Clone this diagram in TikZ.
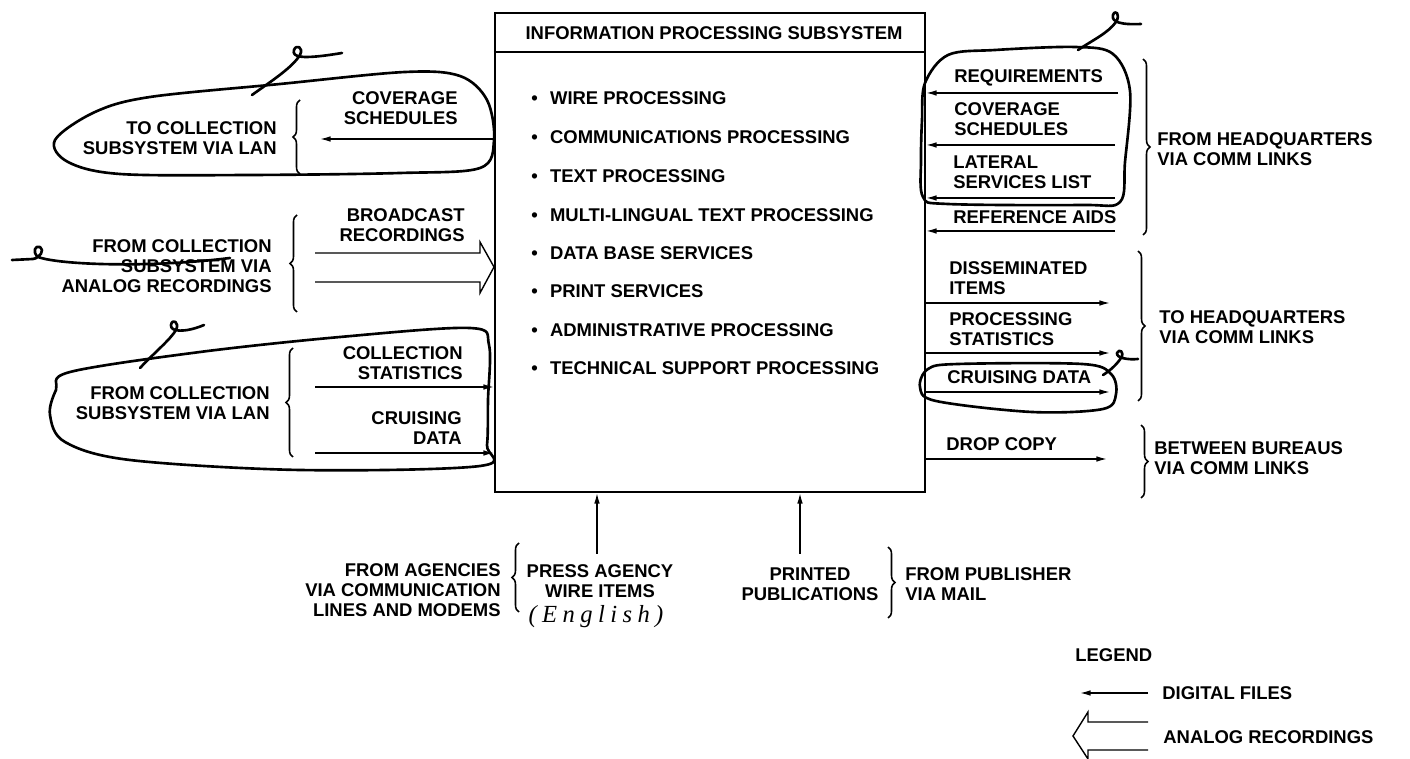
\documentclass[tikz,border=0pt]{standalone}
\usepackage{fontspec}
\setmainfont{Liberation Sans}
\newfontfamily\handfont[LetterSpace=22]{Liberation Serif}
\usetikzlibrary{arrows.meta,decorations.pathreplacing,positioning}

\begin{document}
\begin{tikzpicture}
[x=0.02cm,y=-0.02cm,
  font=\fontsize{10.5}{11.2}\selectfont\bfseries,
  lineDecorate/.style={-{Latex[length=6pt,width=3.2pt]},line width=0.8pt},
  analogDecorate/.style={line width=0.8pt,line join=miter},
  boxDecorate/.style={draw,line width=1.3pt,minimum width=8.6cm,minimum height=9.58cm,inner sep=0pt},
  braceDecorate/.style={decorate,decoration={brace,amplitude=4pt},line width=0.9pt},
  handDecorate/.style={line width=1.5pt,line cap=round,line join=round},
  leftText/.style={anchor=east,align=right,inner sep=0pt},
  rightText/.style={anchor=west,align=left,inner sep=0pt},
  midText/.style={align=center,inner sep=0pt}]
\useasboundingbox (0,0) rectangle (1410,759);

%% the subsystem box
\node[boxDecorate] (ips) at (710,252.5) {};
\node[midText] (ipsTitle) at (714,33) {INFORMATION PROCESSING SUBSYSTEM};
\coordinate (titleRule) at (0,52);
\draw[line width=1.3pt] (ips.west |- titleRule) -- (ips.east |- titleRule);

%% functions inside the box
\foreach \nodename/\y/\txt in {
  itemWire/98/WIRE PROCESSING, itemComm/137/COMMUNICATIONS PROCESSING,
  itemText/176/TEXT PROCESSING, itemMulti/215/MULTI-LINGUAL TEXT PROCESSING,
  itemBase/253/DATA BASE SERVICES, itemPrint/291/PRINT SERVICES,
  itemAdmin/330/ADMINISTRATIVE PROCESSING, itemTech/368/TECHNICAL SUPPORT PROCESSING}
{
  \node[rightText] (\nodename) at (531,\y) {\textbullet\hspace{7pt}\txt};
}

%% labels
\foreach \nodename/\x/\y/\txt in {
  covSchedL/458/108/{COVERAGE\\SCHEDULES}, toCollection/277/138/{TO COLLECTION\\SUBSYSTEM VIA LAN},
  broadcast/465/225/{BROADCAST\\RECORDINGS},
  fromAnalog/272/266/{FROM COLLECTION\\SUBSYSTEM VIA\\ANALOG RECORDINGS},
  collStats/463/363/{COLLECTION\\STATISTICS}, cruisingL/462/428/{CRUISING\\DATA},
  fromLan/270/403/{FROM COLLECTION\\SUBSYSTEM VIA LAN},
  fromAgencies/501/590/{FROM AGENCIES\\VIA COMMUNICATION\\LINES AND MODEMS}}
{
  \node[leftText] (\nodename) at (\x,\y) {\txt};
}
\foreach \nodename/\x/\y/\txt in {
  requirements/954/78/REQUIREMENTS, covSchedR/954/119/{COVERAGE\\SCHEDULES},
  lateral/953/172/{LATERAL\\SERVICES LIST}, refAids/953/217/{REFERENCE AIDS},
  fromHQ/1157/149/{FROM HEADQUARTERS\\VIA COMM LINKS},
  dissem/949/278/{DISSEMINATED\\ITEMS}, procStats/949/329/{PROCESSING\\STATISTICS},
  cruisingR/947/377/{CRUISING DATA}, toHQ/1159/327/{TO HEADQUARTERS\\VIA COMM LINKS},
  dropCopy/946/444/{DROP COPY}, between/1154/458/{BETWEEN BUREAUS\\VIA COMM LINKS},
  fromPublisher/905/584/{FROM PUBLISHER\\VIA MAIL},
  legendTitle/1075/655/LEGEND, digitalFiles/1162/693/{DIGITAL FILES},
  analogRec/1163/737/{ANALOG RECORDINGS}}
{
  \node[rightText] (\nodename) at (\x,\y) {\txt};
}
\node[midText] (pressAgency) at (600,581) {PRESS AGENCY\\WIRE ITEMS};
\node[midText] (printed) at (810,584) {PRINTED\\PUBLICATIONS};
\node[midText,font=\handfont\itshape\fontsize{14}{14}\selectfont] (english) at (596,617) {(English)};

%% arrow ends
\foreach \nodename/\x/\y in {
  covSchedEnd/320/139, collStatsStart/315/387, cruisingStartL/315/453,
  reqStart/1118/93, covSchedStart/1115/145, lateralStart/1115/198, refAidsStart/1115/231,
  dissemEnd/1110/303, procStatsEnd/1110/353, cruisingEndR/1110/392, dropCopyEnd/1107/459,
  pressStart/597/554, printedStart/800/554, digitalStart/1148/693, digitalEnd/1080/693}
{
  \coordinate (\nodename) at (\x,\y);
}

%% digital files
\foreach \side/\endnode in {west/covSchedEnd, east/dissemEnd, east/procStatsEnd,
  east/cruisingEndR, east/dropCopyEnd}
{
  \draw[lineDecorate] (\endnode -| ips.\side) -- (\endnode);
}
\foreach \side/\startnode in {west/collStatsStart, west/cruisingStartL, east/reqStart,
  east/covSchedStart, east/lateralStart, east/refAidsStart}
{
  \draw[lineDecorate] (\startnode) -- (\startnode -| ips.\side);
}
\foreach \startnode in {pressStart, printedStart}
{
  \draw[lineDecorate] (\startnode) -- (\startnode |- ips.south);
}
\draw[lineDecorate] (digitalStart) -- (digitalEnd);

%% analog recordings
\draw[analogDecorate] (315,253) -- (480,253) -- (480,242) -- (494,267) -- (480,293)
  -- (480,282) -- (315,282);
\draw[analogDecorate] (1148,722) -- (1088,722) -- (1088,712) -- (1073,736) -- (1088,759)
  -- (1088,750) -- (1148,750);

%% braces
\foreach \x/\ya/\yb in {300/174/100, 297/312/215, 293/457/348, 1143/59/235,
  1138/251/401, 1141/425/498, 519/612/543, 888/547/618}
{
  \draw[braceDecorate] (\x,\ya) -- (\x,\yb);
}

%% hand marks
\draw[handDecorate] plot[smooth cycle,tension=0.55] coordinates {(55,140) (95,112) (150,97)
  (280,84) (405,72) (460,76) (487,100) (494,140) (480,168) (400,173) (250,175) (120,174) (68,162)};
\draw[handDecorate] plot[smooth cycle,tension=0.55] coordinates {(70,372) (200,352) (340,337)
  (470,328) (489,345) (488,400) (487,445) (480,466) (300,470) (130,460) (65,442) (50,415) (56,390)};
\draw[handDecorate] plot[smooth cycle,tension=0.55] coordinates {(922,120) (925,83) (948,55)
  (995,50) (1075,47) (1113,54) (1130,91) (1125,162) (1120,202) (1082,205) (948,204) (923,197) (921,160)};
\draw[handDecorate] plot[smooth cycle,tension=0.55] coordinates {(920,387) (928,369) (958,364)
  (1082,364) (1111,374) (1116,394) (1103,409) (1032,412) (936,401)};
\draw[handDecorate] (252,95) .. controls (270,82) and (292,68) .. (300,55)
  .. controls (304,47) and (296,44) .. (294,50) .. controls (292,57) and (300,60) .. (342,53);
\draw[handDecorate] (12,260) -- (33,259) .. controls (40,258) and (45,250) .. (40,247)
  .. controls (35,245) and (32,252) .. (38,257) .. controls (60,265) and (150,268) .. (230,258);
\draw[handDecorate] (140,368) .. controls (155,352) and (170,340) .. (176,330)
  .. controls (180,322) and (172,318) .. (171,325) .. controls (170,332) and (185,333) .. (204,325);
\draw[handDecorate] (1078,50) .. controls (1093,40) and (1108,33) .. (1116,22)
  .. controls (1121,14) and (1115,9) .. (1113,15) .. controls (1111,22) and (1121,25) .. (1141,24);
\draw[handDecorate] (1103,375) .. controls (1111,370) and (1117,364) .. (1121,358)
  .. controls (1125,352) and (1119,348) .. (1117,353) .. controls (1116,358) and (1128,360) .. (1138,359);
\end{tikzpicture}
\end{document}
